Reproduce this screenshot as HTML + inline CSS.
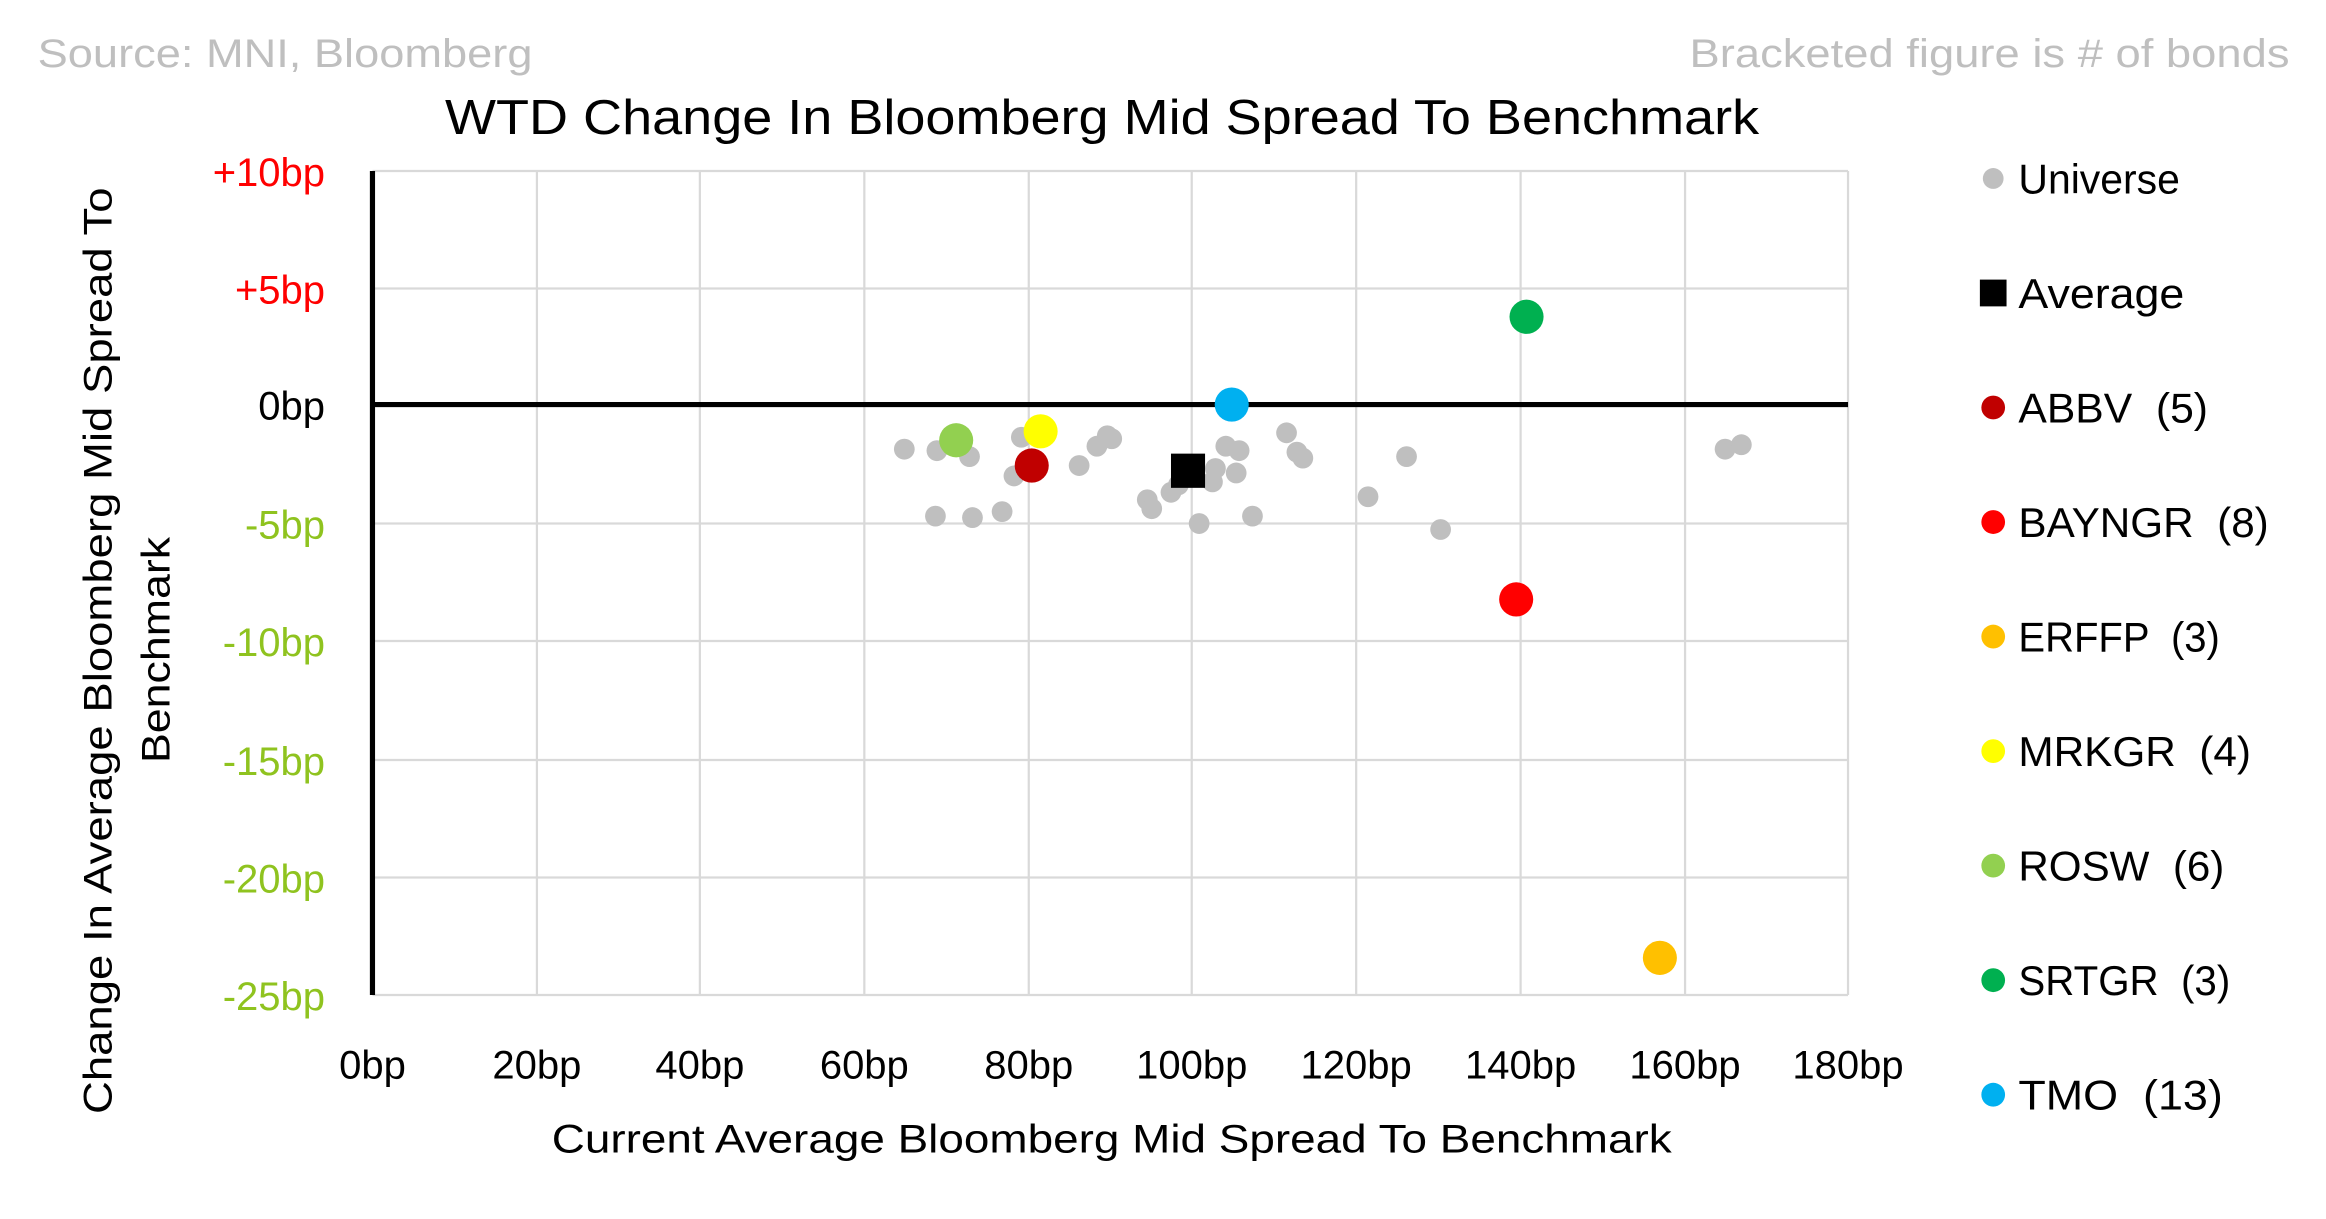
<!DOCTYPE html>
<html><head><meta charset="utf-8"><style>
html,body{margin:0;padding:0;background:#fff;}
svg{display:block;}
text{font-family:"Liberation Sans",sans-serif;white-space:pre;}
</style></head><body>
<svg width="2326" height="1219" viewBox="0 0 1560 817.5" preserveAspectRatio="none" xmlns="http://www.w3.org/2000/svg" xml:space="preserve">
<rect width="1560" height="817.5" fill="#fff"/>
<g transform="matrix(0.9936 0 0 0.9975 2.4 0.98)">
<text x="23" y="44" font-size="27" fill="#bfbfbf" textLength="334" lengthAdjust="spacingAndGlyphs">Source: MNI, Bloomberg</text>
<text x="1138" y="44" font-size="27" fill="#bfbfbf" textLength="405" lengthAdjust="spacingAndGlyphs">Bracketed figure is # of bonds</text>
<text x="298" y="89" font-size="33" fill="#000" textLength="887" lengthAdjust="spacingAndGlyphs">WTD Change In Bloomberg Mid Spread To Benchmark</text>
<g stroke="#d9d9d9" stroke-width="1.5">
<line x1="360" y1="114" x2="360" y2="668"/><line x1="470" y1="114" x2="470" y2="668"/><line x1="581" y1="114" x2="581" y2="668"/><line x1="692" y1="114" x2="692" y2="668"/><line x1="802" y1="114" x2="802" y2="668"/><line x1="913" y1="114" x2="913" y2="668"/><line x1="1024" y1="114" x2="1024" y2="668"/><line x1="1135" y1="114" x2="1135" y2="668"/><line x1="1245" y1="114" x2="1245" y2="668"/>
<line x1="249" y1="114" x2="1245" y2="114"/><line x1="249" y1="193" x2="1245" y2="193"/><line x1="249" y1="351" x2="1245" y2="351"/><line x1="249" y1="430" x2="1245" y2="430"/><line x1="249" y1="510" x2="1245" y2="510"/><line x1="249" y1="589" x2="1245" y2="589"/><line x1="249" y1="668" x2="1245" y2="668"/>
</g>
<line x1="249" y1="114" x2="249" y2="668" stroke="#000" stroke-width="3.5"/>
<line x1="249" y1="271" x2="1245" y2="271" stroke="#000" stroke-width="3.5"/>
<g font-size="27" text-anchor="end">
<text x="217" y="124" fill="#ff0000">+10bp</text>
<text x="217" y="203" fill="#ff0000">+5bp</text>
<text x="217" y="281" fill="#000">0bp</text>
<text x="217" y="361" fill="#8fc31f">-5bp</text>
<text x="217" y="440" fill="#8fc31f">-10bp</text>
<text x="217" y="520" fill="#8fc31f">-15bp</text>
<text x="217" y="599" fill="#8fc31f">-20bp</text>
<text x="217" y="678" fill="#8fc31f">-25bp</text>
</g>
<g font-size="27" text-anchor="middle" fill="#000">
<text x="249" y="724">0bp</text><text x="360" y="724">20bp</text><text x="470" y="724">40bp</text><text x="581" y="724">60bp</text><text x="692" y="724">80bp</text><text x="802" y="724">100bp</text><text x="913" y="724">120bp</text><text x="1024" y="724">140bp</text><text x="1135" y="724">160bp</text><text x="1245" y="724">180bp</text>
</g>
<text x="370" y="774" font-size="27" textLength="756" lengthAdjust="spacingAndGlyphs">Current Average Bloomberg Mid Spread To Benchmark</text>
<text transform="translate(73,748) rotate(-90)" font-size="27" textLength="623" lengthAdjust="spacingAndGlyphs">Change In Average Bloomberg Mid Spread To</text>
<text transform="translate(112,512) rotate(-90)" font-size="27" textLength="152" lengthAdjust="spacingAndGlyphs">Benchmark</text>
<g fill="#bfbfbf">
<circle cx="608" cy="301" r="7"/><circle cx="630" cy="302" r="7"/><circle cx="652" cy="306" r="7"/><circle cx="629" cy="346" r="7"/><circle cx="654" cy="347" r="7"/><circle cx="674" cy="343" r="7"/><circle cx="682" cy="319" r="7"/><circle cx="687" cy="293" r="7"/><circle cx="726" cy="312" r="7"/><circle cx="738" cy="299" r="7"/><circle cx="745" cy="292" r="7"/><circle cx="748" cy="294" r="7"/><circle cx="772" cy="335" r="7"/><circle cx="775" cy="341" r="7"/><circle cx="788" cy="330" r="7"/><circle cx="793" cy="325" r="7"/><circle cx="807" cy="351" r="7"/><circle cx="816" cy="323" r="7"/><circle cx="818" cy="314" r="7"/><circle cx="825" cy="299" r="7"/><circle cx="834" cy="302" r="7"/><circle cx="832" cy="317" r="7"/><circle cx="843" cy="346" r="7"/><circle cx="866" cy="290" r="7"/><circle cx="873" cy="303" r="7"/><circle cx="877" cy="307" r="7"/><circle cx="921" cy="333" r="7"/><circle cx="947" cy="306" r="7"/><circle cx="970" cy="355" r="7"/><circle cx="1162" cy="301" r="7"/><circle cx="1173" cy="298" r="7"/>
</g>
<rect x="788" y="304" width="23" height="23" fill="#000"/>
<circle cx="643" cy="295" r="11.5" fill="#92d050"/>
<circle cx="700" cy="289" r="11.5" fill="#ffff00"/>
<circle cx="694" cy="312" r="11.5" fill="#c00000"/>
<circle cx="829" cy="271" r="11.5" fill="#00b0f0"/>
<circle cx="1028" cy="212" r="11.5" fill="#00b050"/>
<circle cx="1021" cy="402" r="11.5" fill="#ff0000"/>
<circle cx="1118" cy="643" r="11.5" fill="#ffc000"/>
<g font-size="28" fill="#000">
<circle cx="1343" cy="119" r="7" fill="#bfbfbf"/><text x="1360" y="129" textLength="109" lengthAdjust="spacingAndGlyphs">Universe</text>
<rect x="1334" y="187" width="18" height="18" fill="#000"/><text x="1360" y="206" textLength="112" lengthAdjust="spacingAndGlyphs">Average</text>
<circle cx="1343" cy="273" r="8" fill="#c00000"/><text x="1360" y="283" textLength="128" lengthAdjust="spacingAndGlyphs">ABBV  (5)</text>
<circle cx="1343" cy="350" r="8" fill="#ff0000"/><text x="1360" y="360" textLength="169" lengthAdjust="spacingAndGlyphs">BAYNGR  (8)</text>
<circle cx="1343" cy="427" r="8" fill="#ffc000"/><text x="1360" y="437" textLength="136" lengthAdjust="spacingAndGlyphs">ERFFP  (3)</text>
<circle cx="1343" cy="504" r="8" fill="#ffff00"/><text x="1360" y="514" textLength="157" lengthAdjust="spacingAndGlyphs">MRKGR  (4)</text>
<circle cx="1343" cy="581" r="8" fill="#92d050"/><text x="1360" y="591" textLength="139" lengthAdjust="spacingAndGlyphs">ROSW  (6)</text>
<circle cx="1343" cy="658" r="8" fill="#00b050"/><text x="1360" y="668" textLength="143" lengthAdjust="spacingAndGlyphs">SRTGR  (3)</text>
<circle cx="1343" cy="735" r="8" fill="#00b0f0"/><text x="1360" y="745" textLength="138" lengthAdjust="spacingAndGlyphs">TMO  (13)</text>
</g>
</g>
</svg>
</body></html>
